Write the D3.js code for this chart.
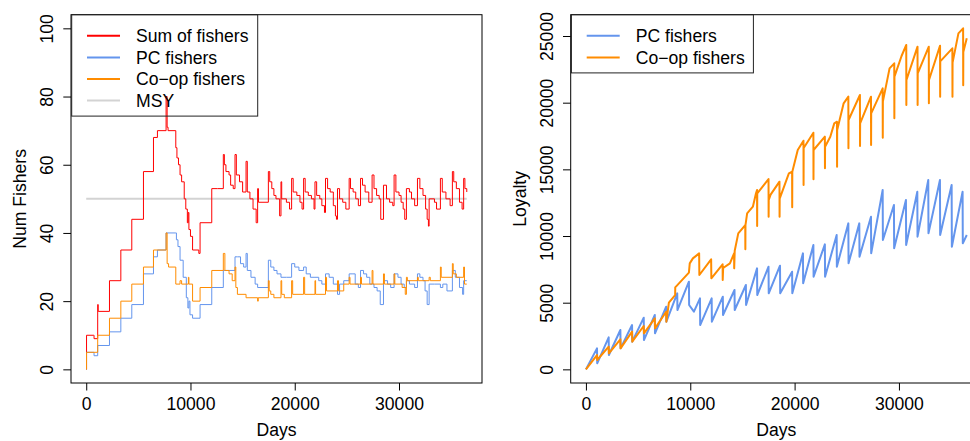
<!DOCTYPE html>
<html>
<head>
<meta charset="utf-8">
<script src="https://cdn.jsdelivr.net/npm/d3@7"></script>
<style>
  body { margin: 0; background: #fff; }
  svg text { font-family: "Liberation Sans", Arial, Helvetica, sans-serif; font-size: 17.6px; fill: #000; }
</style>
</head>
<body>
<div id="chart"></div>
<script>
const width = 970;
const height = 441;

// x range of both panels (days) and tick labels
const dayRange = [0, 36500];
const dayTicks = [0, 10000, 20000, 30000];
const fisherRange = [0, 100];
const fisherTicks = [0, 20, 40, 60, 80, 100];
const loyaltyTicks = [0, 5000, 10000, 15000, 20000, 25000];
const msy = 50;

const fisherLabels = ["Sum of fishers", "PC fishers", "Co\u2212op fishers", "MSY"];
const loyaltyLabels = ["PC fishers", "Co\u2212op fishers"];
const colors = { sum: "#ff0000", pc: "#6495ed", coop: "#ff8c00", msy: "#d3d3d3" };

// [day, number of fishers], step series
const sumFishers = [[0,0],[30,10],[700,10],[750,9],[1100,19],[1150,17],[2230,26],[3320,35],[4370,44],[5490,58],[6450,68],[6830,70],[7660,80],[7760,71],[7850,70],[8590,65],[8700,62],[8850,60],[9000,57],[9150,55],[9400,50],[9550,47],[9700,43],[9780,46],[9850,41],[10000,39],[10200,35],[10800,34],[10920,43],[12040,53],[12600,53],[13150,63],[13250,60],[13400,58],[13700,57],[13850,54],[14100,53],[14270,63],[14400,57],[14700,55],[15000,52],[15330,61],[15450,52],[15700,50],[16000,47],[16300,43],[16440,53],[16520,49],[17470,58],[17600,55],[17800,53],[18000,51],[18200,50],[18550,45],[18680,55],[18750,50],[19200,49],[19500,47],[19700,56],[19850,52],[20200,51],[20500,49],[20700,47],[20850,56],[21000,52],[21300,51],[21600,50],[21850,47],[21940,55],[22100,51],[22400,50],[22600,48],[22850,46],[22950,56],[23150,53],[23400,52],[23700,48],[23900,45],[24000,44],[24100,53],[24300,50],[24600,49],[24900,47],[25220,56],[25350,53],[25600,52],[25850,50],[26100,48],[26310,56],[26500,54],[26750,52],[27100,49],[27420,57],[27600,53],[27850,51],[28100,50],[28250,44],[28510,54],[28800,50],[29100,49],[29400,48],[29530,57],[29700,52],[30000,51],[30200,49],[30400,47],[30550,44],[30710,53],[31000,52],[31200,50],[31500,48],[31770,56],[32000,53],[32300,51],[32550,47],[32700,44],[32820,42],[32890,50],[33400,49],[33600,47],[33970,56],[34150,52],[34500,50],[34900,48],[35120,58],[35250,55],[35500,53],[35800,49],[36050,47],[36200,56],[36320,53],[36500,52]];

const pcFishers = [[0,0],[30,5],[700,5],[750,4],[1100,7],[2230,11],[3320,15],[4370,19],[5490,28],[6450,33],[6830,35],[7660,40],[8590,40],[8650,38],[8800,36],[9000,32],[9300,27],[9600,21],[9750,18],[9850,20],[9950,16],[10200,15],[10920,19],[12040,24],[13150,29],[14270,33],[14500,33],[14800,31],[15100,30],[15330,34],[15450,29],[15800,27],[16200,25],[16440,24],[17470,32],[17700,30],[18000,29],[18300,28],[18680,27],[19200,27],[19700,31],[20000,30],[20400,29],[20850,30],[21100,28],[21500,27],[21940,27],[22300,26],[22600,25],[22950,28],[23300,27],[23700,25],[24100,22],[24300,25],[24700,26],[25220,28],[25500,28],[25800,25],[26100,24],[26310,29],[26600,28],[26900,27],[27200,25],[27420,25],[27600,24],[27900,23],[28200,19],[28510,26],[28900,25],[29200,24],[29530,28],[29900,27],[30200,25],[30500,24],[30710,26],[31000,25],[31500,24],[31770,28],[32000,27],[32300,26],[32500,23],[32700,19],[32890,25],[33400,25],[33970,24],[34200,25],[34600,23],[35120,29],[35400,27],[35800,24],[36100,22],[36200,26],[36500,26]];

const coopFishers = [[0,0],[30,5],[1100,10],[2230,15],[3320,20],[4370,25],[5490,30],[6450,35],[7660,40],[7760,31],[7900,30],[8590,25],[9000,26],[9150,25],[9800,27],[9850,25],[10200,20],[10920,24],[12040,29],[13150,34],[13300,29],[13700,28],[14000,26],[14270,30],[14350,24],[14500,22],[15330,21],[16440,20],[16500,21],[17470,26],[17550,23],[17700,22],[18000,21],[18680,26],[18750,22],[19000,21],[19700,26],[19800,22],[20850,27],[20950,22],[21940,26],[22000,22],[22950,27],[23050,23],[24100,26],[24200,23],[24700,25],[25220,27],[25300,25],[26310,27],[26400,25],[27420,29],[27500,25],[28510,28],[28600,25],[29530,28],[29600,25],[30300,24],[30600,22],[30710,27],[30800,26],[31770,27],[31850,26],[32890,27],[33000,26],[33970,30],[34050,27],[35120,31],[35200,28],[35500,27],[36200,30],[36280,25],[36500,25]];

// [day, loyalty]
const pcLoyalty = [[0,0],[1060,1575],[1080,450],[2180,2400],[2200,1075],[3300,2950],[3320,1575],[4420,3325],[4440,2075],[5540,3875],[5560,2200],[6600,4075],[6620,2700],[7690,4700],[7710,3575],[8750,5700],[8770,4450],[9870,6575],[9890,4825],[10350,4325],[10930,5325],[10950,3325],[12050,5325],[12070,3575],[13120,5450],[13140,4075],[14240,5950],[14260,4450],[15330,6325],[15350,4825],[16400,7575],[16420,5575],[17500,7700],[17520,5700],[18600,7775],[18620,5700],[19760,7325],[19780,5700],[20800,8700],[20820,6450],[21800,9325],[21820,6950],[22900,9375],[22920,6950],[24030,10075],[24050,7700],[25150,10950],[25170,7950],[26200,10950],[26220,8450],[27320,11450],[27340,8700],[28440,13450],[28460,9700],[29520,12325],[29540,9075],[30670,12700],[30690,9325],[31760,13325],[31780,9950],[32810,14200],[32830,10200],[33930,14200],[33950,10075],[35050,13825],[35070,9200],[36100,13325],[36120,9450],[36500,10075]];

const coopLoyalty = [[0,0],[1060,1075],[1080,700],[2180,1700],[2200,1200],[3300,2250],[3320,1575],[4420,2825],[4440,2075],[5540,3250],[5560,2700],[6600,3825],[6620,3075],[7690,4325],[7710,3575],[7950,5000],[8550,5575],[8560,6150],[9870,7250],[9950,7950],[10250,8325],[10850,8700],[10870,7075],[12000,8250],[12020,6825],[13100,7875],[13110,6700],[13150,7600],[13800,7950],[14200,8700],[14210,7575],[14260,8900],[14600,10200],[15270,10825],[15280,9000],[15290,10825],[15450,11700],[16000,12200],[16300,13200],[16400,13450],[16410,10750],[16420,13200],[17500,14275],[17510,11450],[17520,12700],[17700,13100],[18550,14075],[18560,11450],[18570,12800],[19450,14700],[19760,14825],[19770,12150],[19780,14825],[20300,16450],[20850,17150],[20860,13825],[20870,16600],[21800,17750],[21810,14250],[21820,16450],[22900,17450],[22910,15075],[22920,16700],[23420,17450],[23800,18450],[24060,18575],[24070,15200],[24080,17950],[24700,19950],[25150,20450],[25160,16575],[25170,18700],[26260,20575],[26270,16750],[26280,18450],[27320,20450],[27330,16825],[27340,19200],[28440,21075],[28450,17375],[28460,20075],[29100,22575],[29550,22950],[29560,18825],[29570,21950],[30250,23500],[30700,24325],[30710,19825],[30720,21700],[31780,24200],[31790,19825],[31800,22200],[32860,24200],[32870,19950],[32880,21700],[33940,24275],[33950,20450],[33960,23100],[35120,24075],[35130,20450],[35140,23000],[35700,25200],[36150,25575],[36160,21300],[36170,23800],[36500,24825]];

const svg = d3.select("#chart").append("svg")
  .attr("width", width)
  .attr("height", height);

// R style axis limits: 4% padding on each side
function padded(ext) {
  const p = (ext[1] - ext[0]) * 0.04;
  return [ext[0] - p, ext[1] + p];
}

function drawPanel(left, right, yExt, yTicks, yTitle, series, legend) {
  const top = 14.7, bottom = 383;
  const x = d3.scaleLinear().domain(padded(dayRange)).range([left, right]);
  const y = d3.scaleLinear().domain(padded(yExt)).range([bottom, top]);

  const g = svg.append("g");

  series.forEach((s) => {
    const line = d3.line()
      .x((d) => x(d[0]))
      .y((d) => y(d[1]))
      .curve(s.step ? d3.curveStepAfter : d3.curveLinear);
    g.append("path")
      .datum(s.data)
      .attr("fill", "none")
      .attr("stroke", s.color)
      .attr("stroke-width", s.width)
      .attr("stroke-linejoin", "round")
      .attr("d", line);
  });

  // x axis
  const xa = g.append("g")
    .attr("transform", `translate(0, ${bottom})`)
    .call(d3.axisBottom(x).tickValues(dayTicks).tickSizeOuter(0).tickSize(7.5).tickFormat(d3.format("d")));
  xa.select(".domain").remove();
  xa.selectAll("line").attr("stroke", "#000");
  xa.selectAll("text").attr("y", 26.5).attr("dy", null).attr("font-size", null);

  // y axis, labels parallel to the axis as in R
  const ya = g.append("g")
    .attr("transform", `translate(${left}, 0)`)
    .call(d3.axisLeft(y).tickValues(yTicks).tickSizeOuter(0).tickSize(7.7).tickFormat(d3.format("d")));
  ya.select(".domain").remove();
  ya.selectAll("line").attr("stroke", "#000");
  ya.selectAll("text")
    .attr("transform", "rotate(-90)")
    .attr("x", 0).attr("y", -17.7).attr("dy", null)
    .attr("text-anchor", "middle").attr("font-size", null);

  g.attr("font-family", null);

  g.append("text")
    .attr("x", (left + right) / 2)
    .attr("y", 435.5)
    .attr("text-anchor", "middle")
    .text("Days");

  g.append("text")
    .attr("transform", `translate(${left - 45}, ${(top + bottom) / 2}) rotate(-90)`)
    .attr("text-anchor", "middle")
    .text(yTitle);

  // plot box
  g.append("rect")
    .attr("x", left).attr("y", top)
    .attr("width", right - left).attr("height", bottom - top)
    .attr("fill", "none").attr("stroke", "#000").attr("stroke-width", 1);

  // legend
  const rowH = 21.6;
  const lg = g.append("g");
  lg.append("rect")
    .attr("x", left + 0.7).attr("y", top)
    .attr("width", legend.w).attr("height", 15 + legend.items.length * rowH)
    .attr("fill", "none").attr("stroke", "#222").attr("stroke-width", 1);
  legend.items.forEach((it, i) => {
    const cy = 35.8 + i * rowH;
    lg.append("line")
      .attr("x1", left + 16).attr("x2", left + 49)
      .attr("y1", cy).attr("y2", cy)
      .attr("stroke", it.color).attr("stroke-width", 2);
    lg.append("text")
      .attr("x", left + 65)
      .attr("y", cy + 6.4)
      .text(it.label);
  });
}

const msyLine = [[dayRange[0], msy], [dayRange[1], msy]];

drawPanel(71, 482, fisherRange, fisherTicks, "Num Fishers", [
  { data: msyLine, color: colors.msy, width: 2 },
  { data: sumFishers, color: colors.sum, width: 1, step: true },
  { data: pcFishers, color: colors.pc, width: 1, step: true },
  { data: coopFishers, color: colors.coop, width: 1, step: true }
], {
  w: 186,
  items: [
    { label: fisherLabels[0], color: colors.sum },
    { label: fisherLabels[1], color: colors.pc },
    { label: fisherLabels[2], color: colors.coop },
    { label: fisherLabels[3], color: colors.msy }
  ]
});

const loyaltyExt = [0, d3.max(coopLoyalty.concat(pcLoyalty), (d) => d[1])];

drawPanel(570.7, 982, loyaltyExt, loyaltyTicks, "Loyalty", [
  { data: pcLoyalty, color: colors.pc, width: 2 },
  { data: coopLoyalty, color: colors.coop, width: 2 }
], {
  w: 182,
  items: [
    { label: loyaltyLabels[0], color: colors.pc },
    { label: loyaltyLabels[1], color: colors.coop }
  ]
});
</script>
</body>
</html>
